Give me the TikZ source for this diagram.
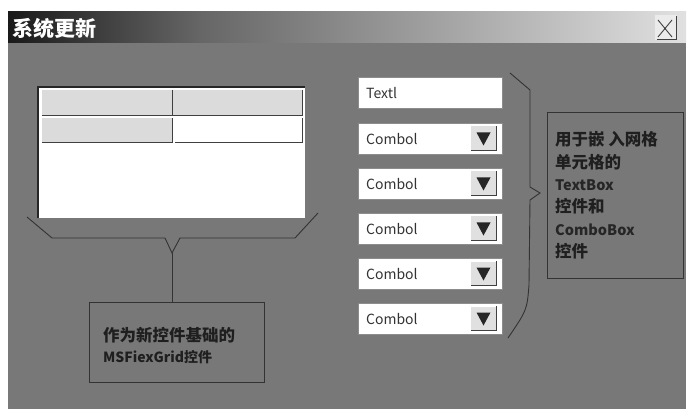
\documentclass[tikz,border=0pt]{standalone}
\usepackage{fontspec}
\setmainfont{Noto Sans CJK SC}
\begin{document}
\begin{tikzpicture}[x=1pt,y=-1pt,
  panelgrey/.style={fill=black!53},
  edge/.style={draw=black!80,line width=0.9pt},
  cellgrey/.style={fill=black!14},
  inbox/.style={draw=black!45,line width=0.5pt,fill=white,minimum width=144pt,minimum height=31pt,inner sep=0pt},
  btn/.style={fill=black!12,minimum width=25pt,minimum height=24pt,inner sep=0pt},
  lbl/.style={font=\fontsize{14}{16}\selectfont,text=black!80,anchor=west,inner sep=0pt},
  note/.style={font=\bfseries\fontsize{16.5}{18}\selectfont,text=black!88,anchor=base west,inner sep=0pt},
  notelat/.style={font=\bfseries\fontsize{14.5}{17}\selectfont,text=black!85,anchor=base west,inner sep=0pt},
  frame/.style={draw=black!80,line width=1pt}
]
\useasboundingbox (0,0) rectangle (694,409);
\fill[white] (0,0) rectangle (694,409);
% panel
\fill[panelgrey] (8,43) rectangle (686,409);
% title bar
\shade[left color=black!90,right color=black!60] (8,12) rectangle (200,43);
\shade[left color=black!60,right color=black!12] (200,12) rectangle (686,43);
\node[font=\bfseries\fontsize{21}{24}\selectfont,text=white,anchor=west,inner sep=0pt] (title) at (12,29) {系统更新};
% close button
\node[fill=black!8,minimum width=22pt,minimum height=25pt,inner sep=0pt] (close) at (666,28) {};
\draw[black!75,line width=0.9pt] (658,20) -- (672,37) (672,20) -- (658,37);
\draw[black!75,line width=1pt] (676,16) -- (676,40) -- (657,40);
% grid
\node[fill=white,minimum width=267pt,minimum height=131pt,inner sep=0pt,anchor=north west] (grid) at (38,87) {};
\draw[black!85,line width=1.2pt] (grid.south west) -- (grid.north west) -- (grid.north east);
\node[cellgrey,anchor=north west,minimum width=130pt,minimum height=25pt,inner sep=0pt] (c11) at (42,90) {};
\node[cellgrey,anchor=north west,minimum width=129pt,minimum height=25pt,inner sep=0pt] (c12) at (173,90) {};
\node[cellgrey,anchor=north west,minimum width=130pt,minimum height=24pt,inner sep=0pt] (c21) at (42,118) {};
\node[fill=white,anchor=north west,minimum width=127pt,minimum height=24pt,inner sep=0pt] (c22) at (175,118) {};
\foreach \c in {c11,c12,c21,c22}{
  \draw[black!75,line width=0.9pt] (\c.south west) -- (\c.south east) -- (\c.north east);
}
% left brace
\coordinate (lb1) at (27,217);
\coordinate (lb2) at (52,238);
\coordinate (lb3) at (165,238);
\coordinate (ltip) at (172,253);
\coordinate (lb4) at (180,238);
\coordinate (lb5) at (295,238);
\coordinate (lb6) at (318,213);
\draw[edge] (lb1) -- (lb2) -- (lb3) -- (ltip) -- (lb4) -- (lb5) -- (lb6);
% bottom note
\node[frame,anchor=north west,minimum width=175pt,minimum height=80pt,inner sep=0pt] (gridnote) at (89,302) {};
\draw[edge] (ltip) -- (ltip |- gridnote.north);
\node[font=\bfseries\fontsize{16.5}{20}\selectfont,text=black!88,anchor=base west,inner sep=0pt] (gn1) at (103,341) {作为新控件基础的};
\node[font=\bfseries\fontsize{14}{18}\selectfont,text=black!88,anchor=base west,inner sep=0pt] (gn2) at (103,362) {MSFiexGrid控件};
% right controls
\node[inbox,anchor=north west] (t1) at (358,77) {};
\node[lbl] (t1l) at (366,93) {Textl};
\foreach \n/\y in {1/123,2/168,3/213,4/258,5/303}{
  \node[inbox,anchor=north west] (cb\n) at (358,\y) {};
  \node[lbl] (cbl\n) at (366,\y+16) {Combol};
  \node[btn] (bt\n) at (483.5,\y+15.5) {};
  \draw[black!75,line width=1pt] (bt\n.north east) -- (bt\n.south east) -- (bt\n.south west);
  \fill[black!85] ([xshift=-7pt,yshift=6pt]bt\n.center) -- ([xshift=7pt,yshift=6pt]bt\n.center) -- ([yshift=-7pt]bt\n.center) -- cycle;
}
% right brace
\coordinate (rb1) at (510,73);
\coordinate (rb2) at (530,90);
\coordinate (rb3) at (530,187);
\coordinate (rtip) at (540,193);
\coordinate (rb4) at (530,200);
\coordinate (rb5) at (529,285);
\coordinate (rb6) at (508,338);
\draw[edge] (rb1) -- (rb2) -- (rb3) -- (rtip) -- (rb4) -- (rb5) .. controls (527,310) .. (rb6);
% right note
\node[frame,anchor=north west,minimum width=136pt,minimum height=166pt,inner sep=0pt] (ctrlnote) at (547,112) {};
\node[note] (r1) at (555,146) {用于嵌\ 入网格};
\node[note] (r2) at (555,169) {单元格的};
\node[notelat] (r3) at (555,191) {TextBox};
\node[note] (r4) at (555,213) {控件和};
\node[notelat] (r5) at (555,236) {ComboBox};
\node[note] (r6) at (555,258) {控件};
\end{tikzpicture}
\end{document}
